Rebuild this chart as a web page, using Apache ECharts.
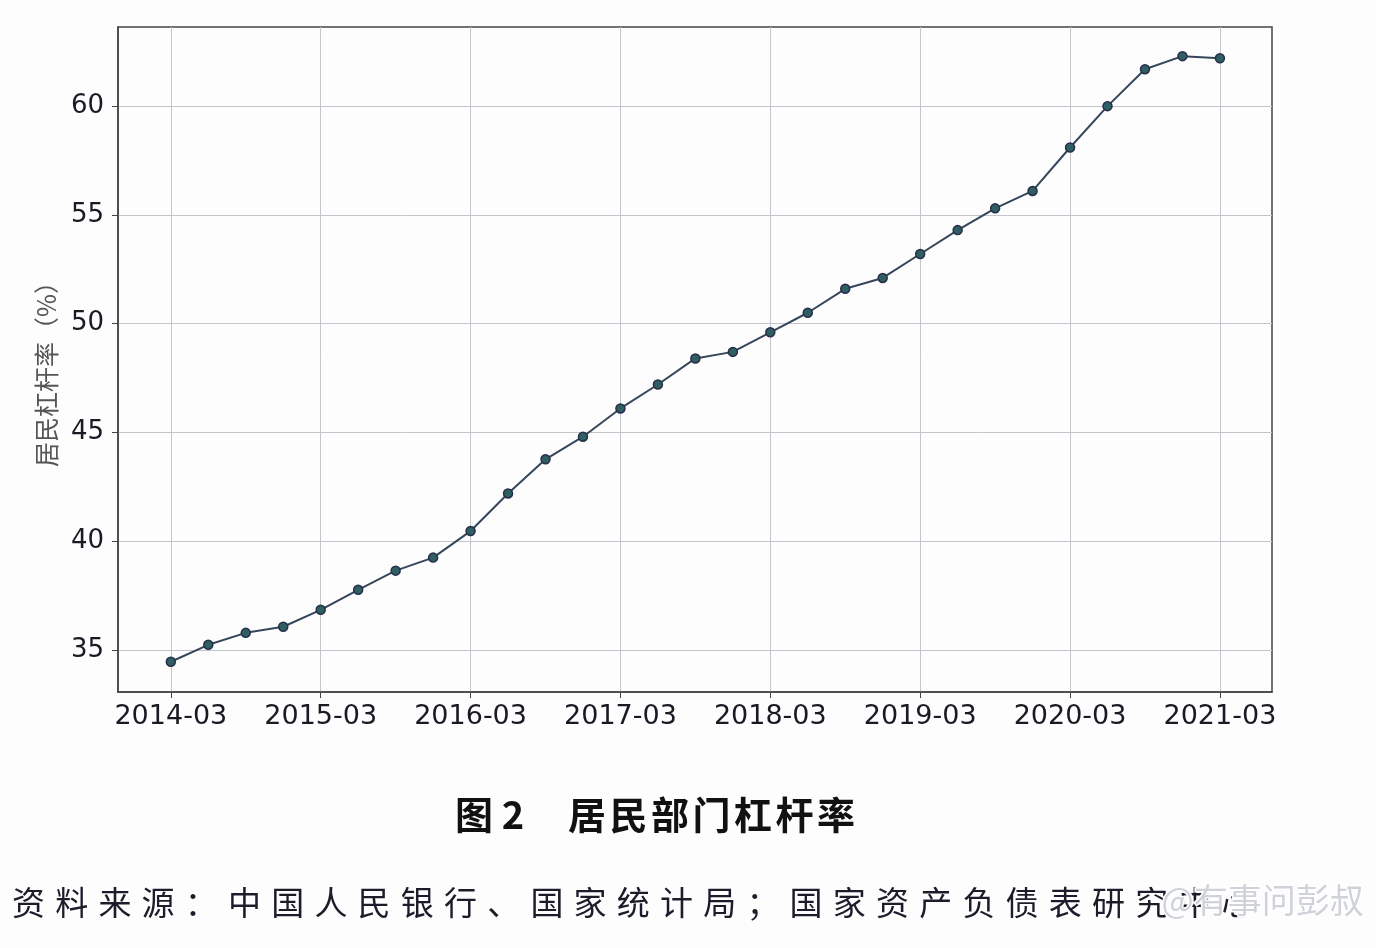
<!DOCTYPE html>
<html><head><meta charset="utf-8">
<script src="https://cdn.jsdelivr.net/npm/echarts@6/dist/echarts.min.js"></script>
<style>html,body{margin:0;padding:0;background:#fdfdfe}#c{width:1376px;height:948px}</style>
</head><body><div id="c"></div>
<script>
const quarters = ['2014-03','2014-06','2014-09','2014-12','2015-03','2015-06','2015-09','2015-12','2016-03','2016-06','2016-09','2016-12','2017-03','2017-06','2017-09','2017-12','2018-03','2018-06','2018-09','2018-12','2019-03','2019-06','2019-09','2019-12','2020-03','2020-06','2020-09','2020-12','2021-03'];
const leverage = [34.45,35.23,35.78,36.06,36.84,37.76,38.64,39.24,40.46,42.19,43.76,44.8,46.1,47.2,48.4,48.7,49.6,50.5,51.6,52.1,53.2,54.3,55.3,56.1,58.1,60.0,61.7,62.3,62.2];
const xTickIdx = [0,4,8,12,16,20,24,28];
const yTicks = [35,40,45,50,55,60];
const yName = '居民杠杆率（%）';
const figNo = '图 2';
const figTitle = '居民部门杠杆率';
const sourceText = '资料来源：中国人民银行、国家统计局；国家资产负债表研究中心';
const watermark = '@有事问彭叔';

const chart = echarts.init(document.getElementById('c'));
const graphics = [];
for (let i = 0; i < sourceText.length; i++) {
  graphics.push({type:'text', left: 12 + i*43.2, top: 886,
    style:{text: sourceText[i], font:'33px "Noto Sans CJK SC"', fill:'#1c1c2a'}});
}
graphics.push({type:'text', left: 1160, top: 882, z: 10,
  style:{text: watermark, font:'34px "Noto Sans CJK SC"', fill:'rgba(205,210,216,0.97)', stroke:'#ffffff', lineWidth:3}});
graphics.push({type:'text', left: 455, top: 796,
  style:{text: figNo, font:'bold 38px "Noto Sans CJK SC"', fill:'#111'}});
for (let i = 0; i < figTitle.length; i++) {
  graphics.push({type:'text', left: 568 + i*41.5, top: 796,
    style:{text: figTitle[i], font:'bold 38px "Noto Sans CJK SC"', fill:'#111'}});
}
graphics.push({type:'text', x: 46, y: 368, rotation: Math.PI/2,
  style:{text: yName, font:'25px "Noto Sans CJK SC"', fill:'#555', align:'center', verticalAlign:'middle'}});

chart.setOption({
  backgroundColor:'#fdfdfe',
  animation:false,
  grid:{left:118, right:104, top:27, bottom:256, show:true, borderColor:'#444', borderWidth:1.5, backgroundColor:'transparent'},
  xAxis:{type:'value', min:-1.41, max:29.39,
    axisLine:{show:true, onZero:false, lineStyle:{color:'#444', width:1.5}},
    axisTick:{show:true, customValues:xTickIdx, length:6, lineStyle:{color:'#444'}},
    axisLabel:{customValues:xTickIdx, formatter:v=>quarters[Math.round(v)], fontFamily:'DejaVu Sans', fontSize:27, color:'#1a1a24', margin:11},
    splitLine:{show:true, lineStyle:{color:'#c2c6cc', width:1}}},
  yAxis:{type:'value', min:33.06, max:63.64,
    axisLine:{show:true, onZero:false, lineStyle:{color:'#444', width:1.5}},
    axisTick:{show:true, customValues:yTicks, length:6, lineStyle:{color:'#444'}},
    axisLabel:{customValues:yTicks, fontFamily:'DejaVu Sans', fontSize:26, color:'#1a1a24', margin:14},
    splitLine:{show:true, lineStyle:{color:'#c2c6cc', width:1}}},
  graphic: graphics,
  series:[{type:'line', data: leverage.map((v,i)=>[i,v]),
    lineStyle:{color:'#36465a', width:2},
    symbol:'circle', symbolSize:9,
    itemStyle:{color:'#2f5f62', borderColor:'#27304a', borderWidth:1.5}}]
});
</script></body></html>
